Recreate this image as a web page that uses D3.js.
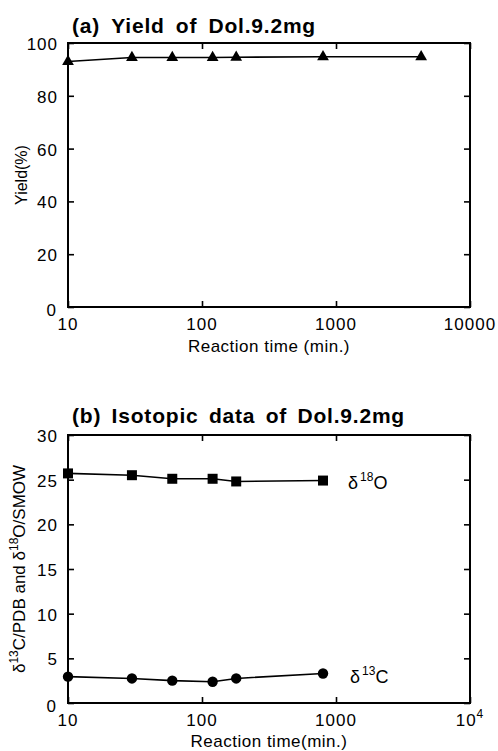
<!DOCTYPE html>
<html>
<head>
<meta charset="utf-8">
<script src="https://cdn.jsdelivr.net/npm/d3@7"></script>
<style>
body { margin: 0; background: #fff; }
text { font-family: "Liberation Sans", Arial, sans-serif; fill: #000; }
</style>
</head>
<body>
<div class="app"></div>
<script>
// data
var timeA = [10, 30, 60, 120, 180, 800, 4320];
var yieldA = [93.0, 94.5, 94.5, 94.5, 94.6, 94.8, 94.8];
var timeB = [10, 30, 60, 120, 180, 800];
var d18O = [25.7, 25.5, 25.1, 25.1, 24.8, 24.9];
var d13C = [2.95, 2.75, 2.5, 2.38, 2.75, 3.3];
var xTicks = [10, 100, 1000, 10000];
var xTickLabelsA = ["10", "100", "1000", "10000"];
var yTicksA = [0, 20, 40, 60, 80, 100];
var yTicksB = [0, 5, 10, 15, 20, 25, 30];

var W = 498, H = 751;
var svg = d3.select(".app").append("svg").attr("width", W).attr("height", H);

function build_panel(top, bottom, yDomain, yTicks) {
    var x = d3.scaleLog().domain([10, 10000]).range([68, 470]);
    var y = d3.scaleLinear().domain(yDomain).range([bottom, top]);
    var g = svg.append("g");
    // inward ticks on all four sides
    g.append("g").attr("transform", "translate(0," + bottom + ")")
        .call(d3.axisBottom(x).tickValues(xTicks).tickSize(-6).tickFormat(""));
    g.append("g").attr("transform", "translate(0," + top + ")")
        .call(d3.axisTop(x).tickValues(xTicks).tickSize(-6).tickFormat(""));
    g.append("g").attr("transform", "translate(68,0)")
        .call(d3.axisLeft(y).tickValues(yTicks).tickSize(-6).tickFormat(""));
    g.append("g").attr("transform", "translate(470,0)")
        .call(d3.axisRight(y).tickValues(yTicks).tickSize(-6).tickFormat(""));
    g.selectAll(".domain").remove();
    g.selectAll(".tick line").attr("stroke", "#000").attr("stroke-width", 1.6);
    g.append("rect").attr("x", 68).attr("y", top).attr("width", 402).attr("height", bottom - top)
        .attr("fill", "none").attr("stroke", "#000").attr("stroke-width", 2);
    // y tick labels
    g.selectAll(".ylab").data(yTicks).enter().append("text")
        .attr("x", function (d) { return d === 0 ? 57 : 58; })
        .attr("y", function (d) { return d === 0 ? bottom + 9 : y(d) + 7; })
        .attr("text-anchor", "end").attr("font-size", 17).attr("letter-spacing", 1)
        .text(function (d) { return d; });
    return {x: x, y: y, g: g};
}

function draw_line(p, xs, ys, shape, size) {
    var pts = xs.map(function (t, i) { return [p.x(t), p.y(ys[i])]; });
    p.g.append("path").datum(pts).attr("d", d3.line()).attr("fill", "none")
        .attr("stroke", "#000").attr("stroke-width", 1.6);
    p.g.selectAll(null).data(pts).enter().append("path")
        .attr("transform", function (d) { return "translate(" + d[0] + "," + d[1] + ")"; })
        .attr("d", d3.symbol().type(shape).size(size))
        .attr("fill", "#000");
}

// bold title: one text per word, gaps spread so it ends where the original does
function title(x, y, len, str) {
    var words = str.split(" ");
    var nodes = words.map(function (w) {
        return svg.append("text").attr("y", y).attr("font-size", 21)
            .attr("font-weight", "bold").attr("letter-spacing", 0.8).text(w);
    });
    var widths = nodes.map(function (n) { return n.node().getComputedTextLength(); });
    var gap = (len - d3.sum(widths)) / (words.length - 1);
    var cx = x;
    nodes.forEach(function (n, i) { n.attr("x", cx); cx += widths[i] + gap; });
}

// panel (a)
var pa = build_panel(43, 307, [0, 100], yTicksA);
draw_line(pa, timeA, yieldA, d3.symbolTriangle, 60);
pa.g.selectAll(".xlab").data(xTicks).enter().append("text")
    .attr("x", function (d) { return pa.x(d); }).attr("y", 330)
    .attr("text-anchor", "middle").attr("font-size", 17).attr("letter-spacing", 1)
    .text(function (d, i) { return xTickLabelsA[i]; });
svg.append("text").attr("x", 269).attr("y", 352).attr("text-anchor", "middle")
    .attr("font-size", 17).attr("letter-spacing", 0.5).text("Reaction time (min.)");
svg.append("text").attr("transform", "translate(27,175) rotate(-90)")
    .attr("text-anchor", "middle").attr("font-size", 16).text("Yield(%)");
title(72, 33, 244, "(a) Yield of Dol.9.2mg");

// panel (b)
var pb = build_panel(435, 703, [0, 30], yTicksB);
draw_line(pb, timeB, d18O, d3.symbolSquare, 100);
draw_line(pb, timeB, d13C, d3.symbolCircle, 85);
var xb = pb.g.selectAll(".xlab").data(xTicks).enter().append("text")
    .attr("x", function (d) { return pb.x(d); }).attr("y", 726)
    .attr("text-anchor", "middle").attr("font-size", 17).attr("letter-spacing", 1);
xb.filter(function (d) { return d < 10000; }).text(function (d) { return d; });
xb.filter(function (d) { return d === 10000; }).each(function () {
    var t = d3.select(this);
    t.append("tspan").text("10");
    t.append("tspan").attr("dy", -8).attr("font-size", 12).text("4");
});
svg.append("text").attr("x", 269).attr("y", 747).attr("text-anchor", "middle")
    .attr("font-size", 17).attr("letter-spacing", 0.5).text("Reaction time(min.)");
title(72, 423, 333, "(b) Isotopic data of Dol.9.2mg");

function delta_label(x, y, iso, el) {
    var t = svg.append("text").attr("x", x).attr("y", y).attr("font-size", 18);
    t.append("tspan").text("\u03b4");
    t.append("tspan").attr("dx", 2).attr("dy", -8).attr("font-size", 12).text(iso);
    t.append("tspan").attr("dy", 8).text(el);
}
delta_label(348, 489, "18", "O");
delta_label(350, 683, "13", "C");

var yl = svg.append("text").attr("transform", "translate(25,569) rotate(-90)")
    .attr("text-anchor", "middle").attr("font-size", 17);
yl.append("tspan").text("\u03b4");
yl.append("tspan").attr("dy", -7).attr("font-size", 12).text("13");
yl.append("tspan").attr("dy", 7).text("C/PDB and  \u03b4");
yl.append("tspan").attr("dy", -7).attr("font-size", 12).text("18");
yl.append("tspan").attr("dy", 7).text("O/SMOW");
</script>
</body>
</html>
